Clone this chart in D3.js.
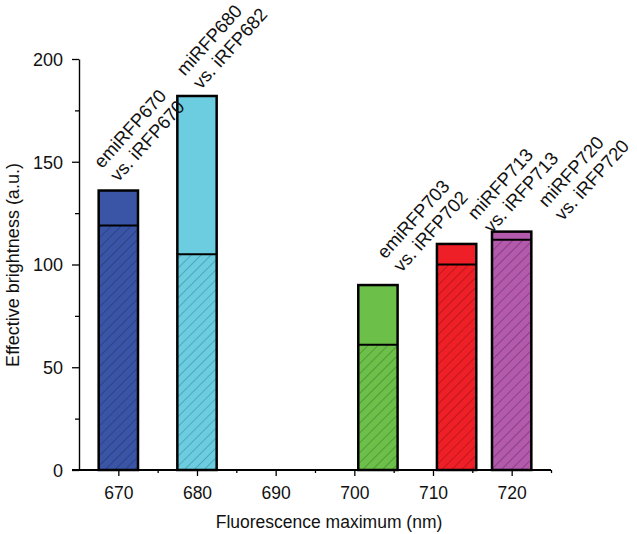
<!DOCTYPE html>
<html><head><meta charset="utf-8">
<script src="https://cdn.jsdelivr.net/npm/d3@7/dist/d3.min.js"></script>
<style>
html,body{margin:0;padding:0;background:#fff;}
text{font-family:"Liberation Sans",Arial,Helvetica,sans-serif;fill:#111;}
</style></head>
<body><svg id="chart" width="637" height="534"></svg>
<script>
// ---- data ----
const peaks = [670, 680, 703, 713, 720];               // fluorescence maximum (nm)
const totalBrightness = [136, 182, 90, 110, 116];      // new protein (solid top)
const oldBrightness = [119, 105, 61, 100, 112];        // older protein (hatched)
const labelTop = ["emiRFP670", "miRFP680", "emiRFP703", "miRFP713", "miRFP720"];
const labelBottom = ["vs. iRFP670", "vs. iRFP682", "vs. iRFP702", "vs. iRFP713", "vs. iRFP720"];
const fillColors = ["#3a55a6", "#6ccde0", "#6cbf48", "#ee1f26", "#b35aac"];
const hatchColors = ["#1c2c6a", "#2a7c8c", "#336f22", "#8a0c12", "#5c2458"];
const xTicks = [670, 680, 690, 700, 710, 720];
const yTicks = [0, 50, 100, 150, 200];

// ---- layout ----
const svg = d3.select("#chart");
const x = d3.scaleLinear().domain([665, 725]).range([79, 551]);
const y = d3.scaleLinear().domain([0, 200]).range([470, 59]);
const barW = 5; // nm
const labelShift = [0, 0.5, 3.0, 4.5, 6.5]; // nm, label offsets to avoid overlap
const labelLift = [8, 6, 12, 10, 10];
const angle = -48;

const defs = svg.append("defs");
peaks.forEach((p, i) => {
  const pat = defs.append("pattern").attr("id", "hatch" + i)
    .attr("patternUnits", "userSpaceOnUse").attr("width", 7).attr("height", 7)
    .attr("patternTransform", "rotate(45)");
  pat.append("rect").attr("width", 7).attr("height", 7).attr("fill", fillColors[i]);
  pat.append("line").attr("x1", 0).attr("y1", 0).attr("x2", 0).attr("y2", 7)
    .attr("stroke", hatchColors[i]).attr("stroke-width", 1.1).attr("stroke-opacity", 0.85);
});

const g = svg.append("g");
peaks.forEach((p, i) => {
  const x0 = x(p - barW / 2), x1 = x(p + barW / 2);
  g.append("rect").attr("x", x0).attr("y", y(totalBrightness[i]))
    .attr("width", x1 - x0).attr("height", y(oldBrightness[i]) - y(totalBrightness[i]))
    .attr("fill", fillColors[i]);
  g.append("rect").attr("x", x0).attr("y", y(oldBrightness[i]))
    .attr("width", x1 - x0).attr("height", y(0) - y(oldBrightness[i]))
    .attr("fill", "url(#hatch" + i + ")");
  g.append("line").attr("x1", x0).attr("x2", x1)
    .attr("y1", y(oldBrightness[i])).attr("y2", y(oldBrightness[i]))
    .attr("stroke", "#000").attr("stroke-width", 2);
  g.append("rect").attr("x", x0).attr("y", y(totalBrightness[i]))
    .attr("width", x1 - x0).attr("height", y(0) - y(totalBrightness[i]))
    .attr("fill", "none").attr("stroke", "#000").attr("stroke-width", 2.5);

  const lx = x(p + labelShift[i]), ly = y(totalBrightness[i]) - labelLift[i];
  const t = svg.append("text").attr("transform", `translate(${lx},${ly}) rotate(${angle})`)
    .attr("font-size", 18.5);
  t.append("tspan").attr("x", -1).attr("y", -21).text(labelTop[i]);
  t.append("tspan").attr("x", 0).attr("y", 0).text(labelBottom[i]);
});

// axes
const xAxis = d3.axisBottom(x).tickValues(d3.range(665, 726, 5)).tickSizeOuter(0)
  .tickSize(0).tickFormat(d => xTicks.includes(d) ? d : "");
const gx = svg.append("g").attr("transform", `translate(0,${y(0)})`).call(xAxis);
gx.select(".domain").attr("stroke", "#000").attr("stroke-width", 2.2).attr("d", `M72,0H551`);
gx.selectAll(".tick line").attr("stroke", "#000").attr("stroke-width", 1.3)
  .attr("y2", d => xTicks.includes(d) ? 6 : 3);
gx.selectAll(".tick").filter(d => d === 665).select("line").remove();
gx.selectAll(".tick text").attr("font-size", 17.5).attr("dy", "0").attr("y", 29)
  .attr("font-family", "Liberation Sans, Arial, sans-serif").attr("fill", "#111");

const yAxis = d3.axisLeft(y).tickValues(d3.range(0, 201, 25)).tickSizeOuter(0)
  .tickSize(0).tickFormat(d => yTicks.includes(d) ? d : "");
const gy = svg.append("g").attr("transform", `translate(${x(665)},0)`).call(yAxis);
gy.select(".domain").attr("stroke", "#000").attr("stroke-width", 1.4);
gy.selectAll(".tick line").attr("stroke", "#000").attr("stroke-width", 1.3)
  .attr("x2", d => yTicks.includes(d) ? -7 : -4);
gy.selectAll(".tick text").attr("font-size", 18).attr("x", -16).attr("dy", "0.35em")
  .attr("font-family", "Liberation Sans, Arial, sans-serif").attr("fill", "#111");

svg.append("text").attr("x", (79 + 551) / 2 + 14).attr("y", 528).attr("text-anchor", "middle")
  .attr("font-size", 17.5).text("Fluorescence maximum (nm)");
svg.append("text").attr("transform", `translate(19,265) rotate(-90)`).attr("text-anchor", "middle")
  .attr("font-size", 18).text("Effective brightness (a.u.)");
</script></body></html>
